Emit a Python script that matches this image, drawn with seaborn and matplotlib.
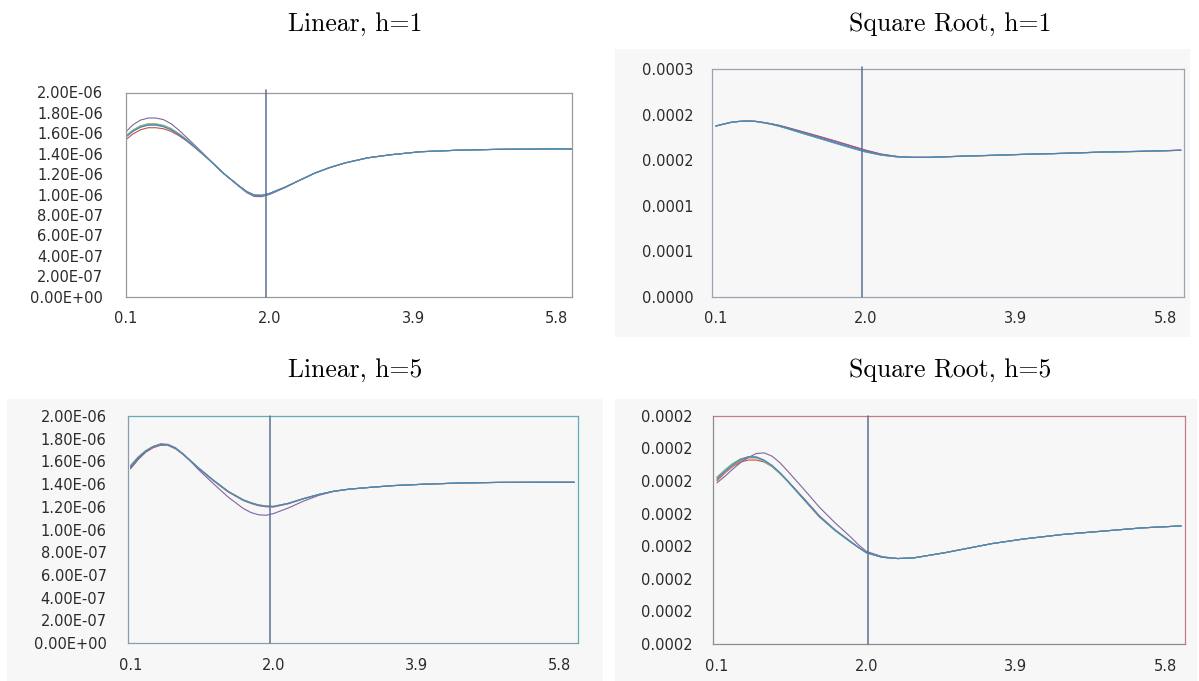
import matplotlib
matplotlib.use('Agg')
import matplotlib.pyplot as plt
import matplotlib.ticker as mticker
from matplotlib.patches import Rectangle
import numpy as np
import pandas as pd
import seaborn as sns

# x categories (step 0.1 in the source, read at these points)
x_vals = [0.1, 0.2, 0.3, 0.4, 0.5, 0.6, 0.7, 0.8, 0.9, 1.0, 1.2, 1.4, 1.6, 1.7, 1.8,
          1.9, 2.0, 2.2, 2.4, 2.6, 2.8, 3.0, 3.3, 3.6, 4.0, 4.5, 5.0, 5.5, 6.0]
x_ticks = [0.1, 2.0, 3.9, 5.8]
x_tick_labels = ['0.1', '2.0', '3.9', '5.8']
series_names = ['S2', 'S6', 'S4', 'S3', 'S5', 'S1']

# Linear, h=1  (units of 1e-7)
lin1_s1 = [15.6, 16.2, 16.6, 16.8, 16.8, 16.65, 16.35, 15.9, 15.35, 14.75, 13.45, 12.05, 10.85, 10.3, 9.95,
           9.92, 10.1, 10.7, 11.4, 12.1, 12.65, 13.1, 13.6, 13.9, 14.2, 14.35, 14.43, 14.46, 14.47]
lin1_s2 = [15.35, 15.95, 16.35, 16.55, 16.55, 16.45, 16.2, 15.8, 15.3, 14.7, 13.45, 12.05, 10.85, 10.3, 9.95,
           9.92, 10.1, 10.7, 11.4, 12.1, 12.65, 13.1, 13.6, 13.9, 14.2, 14.35, 14.43, 14.46, 14.47]
lin1_s3 = [15.75, 16.35, 16.75, 16.95, 16.95, 16.8, 16.5, 16.0, 15.45, 14.8, 13.45, 12.05, 10.85, 10.3, 9.95,
           9.92, 10.1, 10.7, 11.4, 12.1, 12.65, 13.1, 13.6, 13.9, 14.2, 14.35, 14.43, 14.46, 14.47]
lin1_s4 = [16.1, 16.85, 17.3, 17.5, 17.5, 17.35, 16.95, 16.35, 15.65, 14.95, 13.5, 12.05, 10.8, 10.2, 9.82,
           9.8, 10.0, 10.65, 11.4, 12.1, 12.65, 13.1, 13.6, 13.9, 14.2, 14.35, 14.43, 14.46, 14.47]
lin1_s5 = [15.65, 16.25, 16.65, 16.85, 16.85, 16.7, 16.4, 15.95, 15.4, 14.78, 13.45, 12.05, 10.85, 10.3, 9.95,
           9.92, 10.1, 10.7, 11.4, 12.1, 12.65, 13.1, 13.6, 13.9, 14.2, 14.35, 14.43, 14.46, 14.47]
lin1_s6 = [15.7, 16.3, 16.7, 16.9, 16.9, 16.75, 16.45, 15.95, 15.4, 14.75, 13.45, 12.05, 10.85, 10.3, 9.95,
           9.92, 10.1, 10.7, 11.4, 12.1, 12.65, 13.1, 13.6, 13.9, 14.2, 14.35, 14.43, 14.46, 14.47]

# Square Root, h=1  (units of 1e-5)
sqrt1_s1 = [18.74, 18.96, 19.16, 19.25, 19.29, 19.25, 19.12, 18.96, 18.76, 18.52, 18.0, 17.48, 16.96, 16.7, 16.45,
            16.2, 15.96, 15.58, 15.37, 15.3, 15.3, 15.36, 15.45, 15.52, 15.63, 15.74, 15.88, 15.96, 16.08]
sqrt1_s2 = [18.74, 18.96, 19.16, 19.25, 19.29, 19.26, 19.14, 19.0, 18.82, 18.6, 18.12, 17.64, 17.14, 16.88, 16.62,
            16.36, 16.1, 15.66, 15.4, 15.31, 15.3, 15.36, 15.45, 15.52, 15.63, 15.74, 15.88, 15.96, 16.08]
sqrt1_s3 = [18.74, 18.96, 19.16, 19.25, 19.28, 19.24, 19.1, 18.94, 18.73, 18.48, 17.94, 17.42, 16.9, 16.64, 16.39,
            16.14, 15.9, 15.55, 15.35, 15.29, 15.29, 15.35, 15.44, 15.51, 15.62, 15.73, 15.87, 15.95, 16.07]
sqrt1_s4 = [18.74, 18.96, 19.16, 19.25, 19.29, 19.26, 19.13, 18.98, 18.8, 18.57, 18.08, 17.58, 17.08, 16.82, 16.56,
            16.3, 16.05, 15.63, 15.39, 15.3, 15.3, 15.36, 15.45, 15.52, 15.63, 15.74, 15.88, 15.96, 16.08]
sqrt1_s5 = [18.74, 18.96, 19.16, 19.25, 19.28, 19.24, 19.1, 18.93, 18.72, 18.46, 17.92, 17.4, 16.88, 16.62, 16.37,
            16.12, 15.88, 15.54, 15.35, 15.29, 15.3, 15.36, 15.45, 15.52, 15.63, 15.74, 15.88, 15.96, 16.08]
sqrt1_s6 = [18.74, 18.96, 19.16, 19.25, 19.28, 19.24, 19.1, 18.94, 18.73, 18.48, 17.94, 17.42, 16.9, 16.64, 16.39,
            16.14, 15.9, 15.55, 15.35, 15.29, 15.29, 15.35, 15.44, 15.51, 15.62, 15.73, 15.87, 15.95, 16.07]

# Linear, h=5  (units of 1e-7)
lin5_s1 = [15.5, 16.3, 16.9, 17.3, 17.5, 17.45, 17.15, 16.65, 16.05, 15.45, 14.35, 13.35, 12.6, 12.35, 12.15,
           12.05, 12.02, 12.3, 12.72, 13.08, 13.37, 13.55, 13.72, 13.87, 13.99, 14.1, 14.15, 14.16, 14.16]
lin5_s2 = [15.35, 16.15, 16.8, 17.2, 17.42, 17.4, 17.1, 16.6, 16.0, 15.4, 14.3, 13.3, 12.55, 12.3, 12.1,
           12.0, 11.98, 12.27, 12.7, 13.07, 13.37, 13.55, 13.72, 13.87, 13.99, 14.1, 14.15, 14.16, 14.16]
lin5_s3 = [15.65, 16.4, 16.95, 17.32, 17.5, 17.45, 17.15, 16.65, 16.05, 15.45, 14.35, 13.35, 12.62, 12.37, 12.18,
           12.08, 12.05, 12.32, 12.73, 13.08, 13.37, 13.55, 13.72, 13.87, 13.99, 14.1, 14.15, 14.16, 14.16]
lin5_s4 = [15.4, 16.2, 16.85, 17.3, 17.55, 17.5, 17.2, 16.65, 16.0, 15.3, 14.05, 12.85, 11.85, 11.5, 11.3,
           11.25, 11.4, 11.9, 12.5, 13.0, 13.35, 13.55, 13.72, 13.87, 13.99, 14.1, 14.15, 14.16, 14.16]
lin5_s5 = [15.6, 16.35, 16.92, 17.3, 17.48, 17.44, 17.14, 16.64, 16.04, 15.44, 14.34, 13.34, 12.6, 12.35, 12.15,
           12.05, 12.02, 12.3, 12.72, 13.08, 13.37, 13.55, 13.72, 13.87, 13.99, 14.1, 14.15, 14.16, 14.16]
lin5_s6 = [15.55, 16.32, 16.9, 17.3, 17.5, 17.45, 17.15, 16.65, 16.05, 15.45, 14.36, 13.36, 12.61, 12.36, 12.16,
           12.06, 12.03, 12.31, 12.72, 13.08, 13.37, 13.55, 13.72, 13.87, 13.99, 14.1, 14.15, 14.16, 14.16]

# Square Root, h=5  (units of 1e-5)
sqrt5_s1 = [18.03, 18.14, 18.24, 18.32, 18.37, 18.37, 18.32, 18.24, 18.13, 18.0, 17.73, 17.46, 17.25, 17.16, 17.07,
            16.98, 16.9, 16.83, 16.81, 16.82, 16.86, 16.9, 16.97, 17.04, 17.11, 17.18, 17.23, 17.28, 17.31]
sqrt5_s2 = [18.0, 18.12, 18.22, 18.29, 18.32, 18.32, 18.29, 18.22, 18.12, 18.0, 17.74, 17.47, 17.25, 17.16, 17.07,
            16.98, 16.9, 16.83, 16.81, 16.82, 16.86, 16.9, 16.97, 17.04, 17.11, 17.18, 17.23, 17.28, 17.31]
sqrt5_s3 = [18.06, 18.17, 18.27, 18.34, 18.37, 18.36, 18.3, 18.22, 18.11, 17.99, 17.72, 17.45, 17.24, 17.15, 17.06,
            16.98, 16.9, 16.83, 16.81, 16.82, 16.86, 16.9, 16.97, 17.04, 17.11, 17.18, 17.23, 17.28, 17.31]
sqrt5_s4 = [17.97, 18.07, 18.18, 18.28, 18.36, 18.42, 18.43, 18.38, 18.28, 18.15, 17.88, 17.6, 17.36, 17.25, 17.14,
            17.02, 16.92, 16.84, 16.81, 16.82, 16.86, 16.9, 16.97, 17.04, 17.11, 17.18, 17.23, 17.28, 17.31]
sqrt5_s5 = [18.05, 18.16, 18.26, 18.33, 18.37, 18.36, 18.31, 18.23, 18.12, 17.99, 17.72, 17.45, 17.24, 17.15, 17.06,
            16.98, 16.9, 16.83, 16.81, 16.82, 16.86, 16.9, 16.97, 17.04, 17.11, 17.18, 17.23, 17.28, 17.31]
sqrt5_s6 = [18.02, 18.13, 18.23, 18.31, 18.35, 18.35, 18.31, 18.23, 18.12, 18.0, 17.73, 17.46, 17.25, 17.16, 17.07,
            16.98, 16.9, 16.83, 16.81, 16.82, 16.86, 16.9, 16.97, 17.04, 17.11, 17.18, 17.23, 17.28, 17.31]

lin_yticks = [0, 2, 4, 6, 8, 10, 12, 14, 16, 18, 20]
sqrt1_yticks = [0, 5, 10, 15, 20, 25]
sqrt5_yticks = [15.5, 16.0, 16.5, 17.0, 17.5, 18.0, 18.5, 19.0]

palette = {
    'S1': '#4F81BD', 'S2': '#C0504D', 'S3': '#9BBB59',
    'S4': '#8064A2', 'S5': '#4BACC6', 'S6': '#F79646',
}

W, H = 1199, 681
GRAY = '#f7f7f7'


def to_frame(series, scale):
    rows = []
    for name, vals in zip(['S1', 'S2', 'S3', 'S4', 'S5', 'S6'], series):
        for x, v in zip(x_vals, vals):
            rows.append({'x': x, 'value': v * scale, 'series': name})
    return pd.DataFrame(rows)


def sci_label(v, _):
    return f'{v:.2E}'


def dec_label(v, _):
    return f'{v + 1e-12:.4f}'


panels = [
    dict(title='Linear, h=1', series=[lin1_s1, lin1_s2, lin1_s3, lin1_s4, lin1_s5, lin1_s6],
         scale=1e-7, yticks=lin_yticks, fmt=sci_label, box=(125.5, 92.5, 572, 296.7),
         bg=None, face='white', top_right='#9a9a9a', left_bottom='#9a9a9a',
         xlim=(0.1, 6.0), cross=1.95, vtop=1.01, ypad=16, xpad=10.5, title_xy=(355, 24)),
    dict(title='Square Root, h=1', series=[sqrt1_s1, sqrt1_s2, sqrt1_s3, sqrt1_s4, sqrt1_s5, sqrt1_s6],
         scale=1e-5, yticks=sqrt1_yticks, fmt=dec_label, box=(712, 69, 1184, 296.7),
         bg=(614.5, 49, 1190, 337), face=GRAY, top_right='#98a4b0', left_bottom='#98a4b0',
         xlim=(0.05, 6.04), cross=1.95, vtop=1.01, ypad=13.5, xpad=10.5, title_xy=(950, 24)),
    dict(title='Linear, h=5', series=[lin5_s1, lin5_s2, lin5_s3, lin5_s4, lin5_s5, lin5_s6],
         scale=1e-7, yticks=lin_yticks, fmt=sci_label, box=(127.5, 416, 578, 643),
         bg=(7, 399, 603, 681), face=GRAY, top_right='#5fabb8', left_bottom='#8d9aa8',
         xlim=(0.06, 6.05), cross=1.96, vtop=1.0, ypad=15, xpad=10.5, title_xy=(355, 370)),
    dict(title='Square Root, h=5', series=[sqrt5_s1, sqrt5_s2, sqrt5_s3, sqrt5_s4, sqrt5_s5, sqrt5_s6],
         scale=1e-5, yticks=sqrt5_yticks, fmt=dec_label, box=(713, 415.7, 1185, 644),
         bg=(614.5, 399, 1197, 681), face=GRAY, top_right='#c77a86', left_bottom='#8d8d8d',
         xlim=(0.05, 6.05), cross=2.02, vtop=1.0, ypad=14.5, xpad=10.5, title_xy=(950, 370)),
]

sns.set_theme(style='white')
plt.rcParams['font.family'] = ['DejaVu Sans']

fig = plt.figure(figsize=(W / 100, H / 100), dpi=100)
fig.patch.set_facecolor('white')

for p in panels:
    if p['bg'] is not None:
        l, t, r, b = p['bg']
        fig.add_artist(Rectangle((l / W, 1 - b / H), (r - l) / W, (b - t) / H,
                                 transform=fig.transFigure, facecolor=GRAY,
                                 edgecolor='none', zorder=-1))

    l, t, r, b = p['box']
    ax = fig.add_axes([l / W, 1 - b / H, (r - l) / W, (b - t) / H])
    ax.set_facecolor(p['face'])

    df = to_frame(p['series'], p['scale'])
    sns.lineplot(data=df, x='x', y='value', hue='series', hue_order=series_names,
                 palette=palette, linewidth=0.8, legend=False, errorbar=None, ax=ax)

    ax.axvline(p['cross'], ymin=0, ymax=p['vtop'], color='#5a7391', linewidth=1.1,
               clip_on=False, zorder=3)

    yt = np.array(p['yticks']) * p['scale']
    ax.set_ylim(yt[0], yt[-1])
    ax.set_yticks(yt)
    ax.yaxis.set_major_formatter(mticker.FuncFormatter(p['fmt']))
    ax.set_xlim(*p['xlim'])
    ax.set_xticks(x_ticks)
    ax.set_xticklabels(x_tick_labels)
    ax.set_xlabel('')
    ax.set_ylabel('')
    ax.tick_params(axis='y', length=0, pad=p['ypad'], labelsize=10.5, labelcolor='#2b2b2b')
    ax.tick_params(axis='x', length=0, pad=p['xpad'], labelsize=10.5, labelcolor='#2b2b2b')

    for side in ['top', 'right']:
        ax.spines[side].set_color(p['top_right'])
        ax.spines[side].set_linewidth(0.9)
    for side in ['left', 'bottom']:
        ax.spines[side].set_color(p['left_bottom'])
        ax.spines[side].set_linewidth(0.9)

    tx, ty = p['title_xy']
    fig.text(tx / W, 1 - ty / H, p['title'], ha='center', va='center',
             fontsize=18.5, family='cmr10', color='black')

plt.savefig('out.png', dpi=100)
plt.close()
